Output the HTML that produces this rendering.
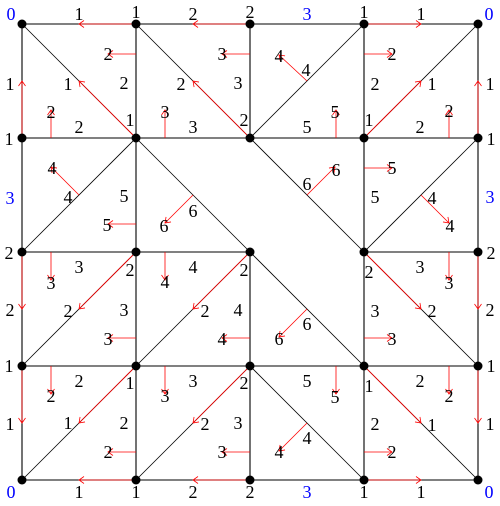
<!DOCTYPE html>
<html><head><meta charset="utf-8"><style>
html,body{margin:0;padding:0;background:#fff;}
svg{display:block;}
text{font-family:"Liberation Serif",serif;font-size:18px;text-anchor:middle;dominant-baseline:central;}
</style></head><body>
<svg id="s" width="500" height="506" viewBox="0 0 500 506" xmlns="http://www.w3.org/2000/svg">
<defs><marker id="ah" markerWidth="8" markerHeight="8" refX="6" refY="4" orient="auto" markerUnits="userSpaceOnUse"><path d="M1,0.5 L6,4 L1,7.5" fill="none" stroke="#f00" stroke-width="0.8"/></marker></defs>
<g id="black"></g><g id="red"></g><g id="nodes"></g><g id="labels"></g>
</svg>
<script>
const X=[22,136,250,364,478], Y=[24,138,252,366,480];
const NS="http://www.w3.org/2000/svg";
function mk(parent,tag,attrs){const e=document.createElementNS(NS,tag);for(const k in attrs)e.setAttribute(k,attrs[k]);document.getElementById(parent).appendChild(e);return e;}
const segs=[];
for(let j=0;j<5;j++)for(let i=0;i<4;i++){ if(!(j===2&&i===2)) segs.push([X[i],Y[j],X[i+1],Y[j]]); }
for(let i=0;i<5;i++)for(let j=0;j<4;j++){ if(!(i===2&&j===1)) segs.push([X[i],Y[j],X[i],Y[j+1]]); }
const diags=[[22,24,136,138],[136,24,250,138],[364,24,250,138],[478,24,364,138],
[136,138,22,252],[136,138,250,252],[250,138,364,252],[478,138,364,252],
[136,252,22,366],[250,252,136,366],[250,252,364,366],[364,252,478,366],
[136,366,22,480],[250,366,136,480],[250,366,364,480],[364,366,478,480]];
segs.forEach(s=>{const e=mk('black','line',{x1:s[0],y1:s[1],x2:s[2],y2:s[3],stroke:'#000','stroke-width':1.1});

});
diags.forEach(s=>{const e=mk('black','line',{x1:s[0],y1:s[1],x2:s[2],y2:s[3],stroke:'#000','stroke-width':0.8});

});
const arrows=[[136,24,79,24],[250,24,193,24],[364,24,421,24],[22,138,22,81],[478,138,478,81],[22,252,22,309],[22,366,22,423],[478,252,478,309],[478,366,478,423],[136,480,79,480],[250,480,193,480],[364,480,421,480],
[136,138,79,81],[250,138,193,81],[364,138,421,81],[136,252,79,309],[250,252,193,309],[364,252,421,309],[136,366,79,423],[250,366,193,423],[364,366,421,423],
[136,54,108,54],[51,138,51,110],[250,54,222,54],[165,138,165,110],[307,81,279,55],[364,54,392,54],[449,138,449,110],[336,138,336,110],
[79,195,51,167],[136,224,108,224],[193,195,165,223],[307,195,335,167],[364,168,392,168],[421,195,449,223],
[51,252,51,280],[136,338,108,338],[165,252,165,280],[250,338,222,338],[307,309,279,337],[364,338,392,338],[449,252,449,280],
[51,366,51,394],[136,452,108,452],[165,366,165,394],[250,452,222,452],[336,366,336,394],[307,423,279,451],[364,452,392,452],[449,366,449,394]];
arrows.forEach(a=>{const e=mk('red','line',{x1:a[0],y1:a[1],x2:a[2],y2:a[3],stroke:'#f00','stroke-width':0.8,'marker-end':'url(#ah)'});

});
X.forEach(x=>Y.forEach(y=>{const e=mk('nodes','circle',{cx:x,cy:y,r:4.5,fill:'#000'});

}));
const labels=[
[11,14,'0',1],[79,14,'1'],[136,12,'1'],[193,14,'2'],[250,12,'2'],[307,14,'3',1],[364,12,'1'],[421,14,'1'],[489,14,'0',1],
[10,84,'1'],[9,139,'1'],[10,198,'3',1],[9,253,'2'],[10,310,'2'],[9,366,'1'],[10,424,'1'],
[490,84,'1'],[491,139,'1'],[490,197,'3',1],[491,253,'2'],[490,310,'2'],[491,366,'1'],[490,424,'1'],
[11,492,'0',1],[79,492,'1'],[136,492,'1'],[193,492,'2'],[250,492,'2'],[307,492,'3',1],[364,492,'1'],[421,492,'1'],[489,492,'0',1],
[68,84,'1'],[124,83,'2'],[79,127,'2'],[130,120,'1'],[108,54,'2'],[51,112,'2'],
[181,84,'2'],[238,83,'3'],[193,127,'3'],[244,120,'2'],[222,54,'3'],[165,112,'3'],
[279,56,'4'],[306,70,'4'],[307,127,'5'],[335,112,'5'],
[392,54,'2'],[375,84,'2'],[432,84,'1'],[369,120,'1'],[420,127,'2'],[449,111,'2'],
[52,168,'4'],[68,197,'4'],[124,196,'5'],[107,225,'5'],
[164,226,'6'],[193,211,'6'],[336,170,'6'],[307,184,'6'],
[392,168,'5'],[375,197,'5'],[432,198,'4'],[450,226,'4'],
[51,283,'3'],[79,267,'3'],[130,270,'2'],[68,311,'2'],[124,310,'3'],[108,339,'3'],
[165,282,'4'],[193,267,'4'],[244,270,'2'],[205,311,'2'],[238,310,'4'],[222,339,'4'],
[279,339,'6'],[307,324,'6'],
[369,272,'2'],[375,311,'3'],[392,339,'3'],[420,267,'3'],[449,283,'3'],[432,311,'2'],
[51,396,'2'],[79,381,'2'],[130,383,'1'],[68,423,'1'],[124,423,'2'],[108,452,'2'],
[165,396,'3'],[193,381,'3'],[244,383,'2'],[205,424,'2'],[238,423,'3'],[222,452,'3'],
[307,381,'5'],[335,397,'5'],[279,452,'4'],[307,438,'4'],
[369,386,'1'],[375,424,'2'],[392,452,'2'],[420,381,'2'],[449,396,'2'],[432,425,'1']];
labels.forEach(l=>{const e=mk('labels','text',{x:l[0],y:l[1],fill:l[3]?'#00f':'#000'});e.textContent=l[2];

});
</script>
</body></html>
